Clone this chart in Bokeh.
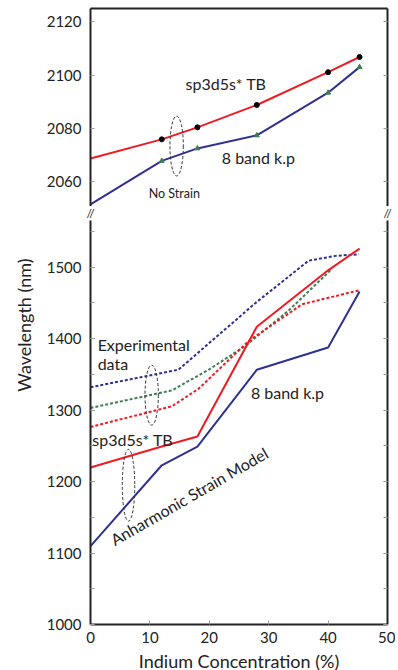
import math
from bokeh.plotting import figure
from bokeh.layouts import column
from bokeh.models import (LinearAxis, SingleIntervalTicker, Label, Range1d,
                          Title, CustomJSTickFormatter)
from bokeh.core.properties import value
from bokeh.embed import file_html
from bokeh.resources import INLINE

# ---------------- data ----------------
x_pts = [0, 12, 18, 28, 40, 45.3]
x_marks = [12, 18, 28, 40, 45.3]

# top panel: no strain
tb_nostrain = [2068.7, 2075.9, 2080.4, 2088.8, 2101.1, 2106.8]
kp_nostrain = [2051.5, 2067.8, 2072.5, 2077.4, 2093.4, 2103.0]

# bottom panel: anharmonic strain model
tb_strain = [1219.6, 1249.0, 1263.0, 1416.6, 1495.6, 1526.0]
kp_strain = [1109.7, 1222.8, 1248.9, 1356.5, 1387.6, 1466.0]

# experimental data (dotted)
exp_blue_x = [0, 14.8, 27.8, 36.7, 41.2, 45.2]
exp_blue_y = [1332.0, 1356.5, 1450.0, 1509.0, 1515.8, 1518.0]
exp_green_x = [0, 13.7, 19.9, 26.1, 33.4, 40.7]
exp_green_y = [1303.0, 1327.6, 1356.5, 1390.0, 1439.6, 1498.0]
exp_red_x = [0, 13.7, 18.2, 26.6, 35.6, 39.0, 45.2]
exp_red_y = [1276.4, 1305.3, 1329.9, 1396.5, 1448.0, 1455.0, 1467.6]

x_lo, x_hi = 0, 50
top_lo, top_hi = 2050.7, 2125.0
bot_lo, bot_hi = 1000, 1565.3
break_x = [x_lo, x_hi]

top_ticks_interval = 20
bot_ticks_interval = 100
x_ticks_interval = 10

FONT = "Lato"
RED = "#ec1c24"
BLUE = "#2e3192"
GREEN = "#3f7d55"
TICK = "#999999"
INK = "#222222"

FRAME_W = 297
LEFT = 90
RIGHT = 8


def style_axis(ax, labels=True, size="15px"):
    ax.axis_line_width = 2
    ax.axis_line_color = INK
    ax.major_tick_in = 4
    ax.major_tick_out = 0
    ax.minor_tick_in = 4
    ax.minor_tick_out = 0
    ax.major_tick_line_color = TICK
    ax.minor_tick_line_color = TICK
    if labels:
        ax.major_label_text_font = FONT
        ax.major_label_text_font_size = size
        ax.major_label_text_color = INK
    else:
        ax.formatter = CustomJSTickFormatter(code="return ''")
        ax.major_label_text_font_size = "1px"
        ax.major_label_standoff = 0


def bare(p):
    p.outline_line_color = None
    p.xgrid.visible = False
    p.ygrid.visible = False


# ---------------- top panel ----------------
top = figure(frame_width=FRAME_W, frame_height=198,
             x_range=Range1d(x_lo, x_hi), y_range=Range1d(top_lo, top_hi),
             output_backend="svg", toolbar_location=None,
             x_axis_location=None, y_axis_location=None,
             min_border_left=LEFT, min_border_right=RIGHT,
             min_border_top=8, min_border_bottom=0)
bare(top)

ly = LinearAxis(ticker=SingleIntervalTicker(interval=top_ticks_interval, num_minor_ticks=0))
style_axis(ly)
ly.major_label_standoff = 9
top.add_layout(ly, "left")
ry = LinearAxis(ticker=SingleIntervalTicker(interval=top_ticks_interval, num_minor_ticks=0))
style_axis(ry, labels=False)
top.add_layout(ry, "right")
ax_top = LinearAxis(ticker=SingleIntervalTicker(interval=x_ticks_interval, num_minor_ticks=0))
style_axis(ax_top, labels=False)
ax_top.major_tick_in = 0
top.add_layout(ax_top, "above")

top.line(x_pts, tb_nostrain, line_color=RED, line_width=2)
top.line(x_pts, kp_nostrain, line_color=BLUE, line_width=2)
top.scatter(x_marks, tb_nostrain[1:], marker="circle", size=5, color="black")
top.scatter(x_marks, kp_nostrain[1:], marker="triangle", size=5, color=GREEN)
top.ellipse(x=[14.5], y=[2073.4], width=[2.25], height=[22.5], fill_color=None,
            line_color="#333333", line_width=1, line_dash="3 2")

for txt, x, y, sz in [("sp3d5s* TB", 16.0, 2097.0, "16px"),
                      ("8 band k.p", 22.1, 2068.9, "16px"),
                      ("No Strain", 9.8, 2055.7, "12.5px")]:
    top.add_layout(Label(x=x, y=y, text=txt, text_font=FONT, text_font_size=sz,
                         text_align="left", text_baseline="middle", text_color=INK))

# ---------------- axis-break strip ----------------
px_per = FRAME_W / (x_hi - x_lo)
pad_l, pad_r = 8, 8
brk = figure(frame_width=FRAME_W + pad_l + pad_r, frame_height=14,
             x_range=Range1d(x_lo - pad_l / px_per, x_hi + pad_r / px_per),
             y_range=Range1d(0, 1),
             output_backend="svg", toolbar_location=None,
             x_axis_location=None, y_axis_location=None,
             min_border_left=LEFT - pad_l, min_border_right=0,
             min_border_top=0, min_border_bottom=0)
bare(brk)
brk.text(x=break_x, y=[0.5, 0.5], text=["//", "//"], text_font=value(FONT),
         text_font_size="12px", text_align="center", text_baseline="middle",
         text_color=INK)

# ---------------- bottom panel ----------------
bot = figure(frame_width=FRAME_W, frame_height=404,
             x_range=top.x_range, y_range=Range1d(bot_lo, bot_hi),
             output_backend="svg", toolbar_location=None,
             x_axis_location=None, y_axis_location=None,
             min_border_left=LEFT, min_border_right=RIGHT,
             min_border_top=0, min_border_bottom=0)
bare(bot)

bly = LinearAxis(ticker=SingleIntervalTicker(interval=bot_ticks_interval, num_minor_ticks=2))
style_axis(bly)
bly.major_label_standoff = 9
bot.add_layout(bly, "left")
bry = LinearAxis(ticker=SingleIntervalTicker(interval=bot_ticks_interval, num_minor_ticks=2))
style_axis(bry, labels=False)
bot.add_layout(bry, "right")
bx = LinearAxis(ticker=SingleIntervalTicker(interval=x_ticks_interval, num_minor_ticks=0),
                axis_label="Indium Concentration (%)")
style_axis(bx)
bx.major_label_standoff = 7
bx.axis_label_standoff = 4
bx.axis_label_text_font = FONT
bx.axis_label_text_font_size = "18px"
bx.axis_label_text_font_style = "normal"
bx.axis_label_text_color = INK
bot.add_layout(bx, "below")

bot.add_layout(Title(text="Wavelength (nm)", align="right", offset=38, standoff=17,
                     text_font=FONT, text_font_size="18px", text_font_style="normal",
                     text_color=INK), "left")

bot.line(exp_blue_x, exp_blue_y, line_color=BLUE, line_width=2, line_dash="3 2")
bot.line(exp_green_x, exp_green_y, line_color=GREEN, line_width=2, line_dash="3 2")
bot.line(exp_red_x, exp_red_y, line_color=RED, line_width=2, line_dash="3 2")
bot.line(x_pts, tb_strain, line_color=RED, line_width=2)
bot.line(x_pts, kp_strain, line_color=BLUE, line_width=2)

bot.ellipse(x=[10.3, 6.4], y=[1321.0, 1194.8], width=[2.25, 2.1], height=[84.0, 100.6],
            fill_color=None, line_color="#333333", line_width=1, line_dash="3 2")

for txt, x, y in [("Experimental", 1.2, 1391.6), ("data", 1.2, 1365.0),
                  ("8 band k.p", 27.0, 1325.0), ("sp3d5s* TB", 0.3, 1259.0)]:
    bot.add_layout(Label(x=x, y=y, text=txt, text_font=FONT, text_font_size="16px",
                         text_align="left", text_baseline="middle", text_color=INK))

bot.add_layout(Label(x=16.6, y=1179.7, text="Anharmonic Strain Model", text_font=FONT,
                     text_font_size="16px", text_align="center", text_baseline="middle",
                     angle=math.radians(30), text_color=INK))

layout = column(top, column(brk), bot, spacing=0)
open("out.html", "w").write(file_html(layout, INLINE))
